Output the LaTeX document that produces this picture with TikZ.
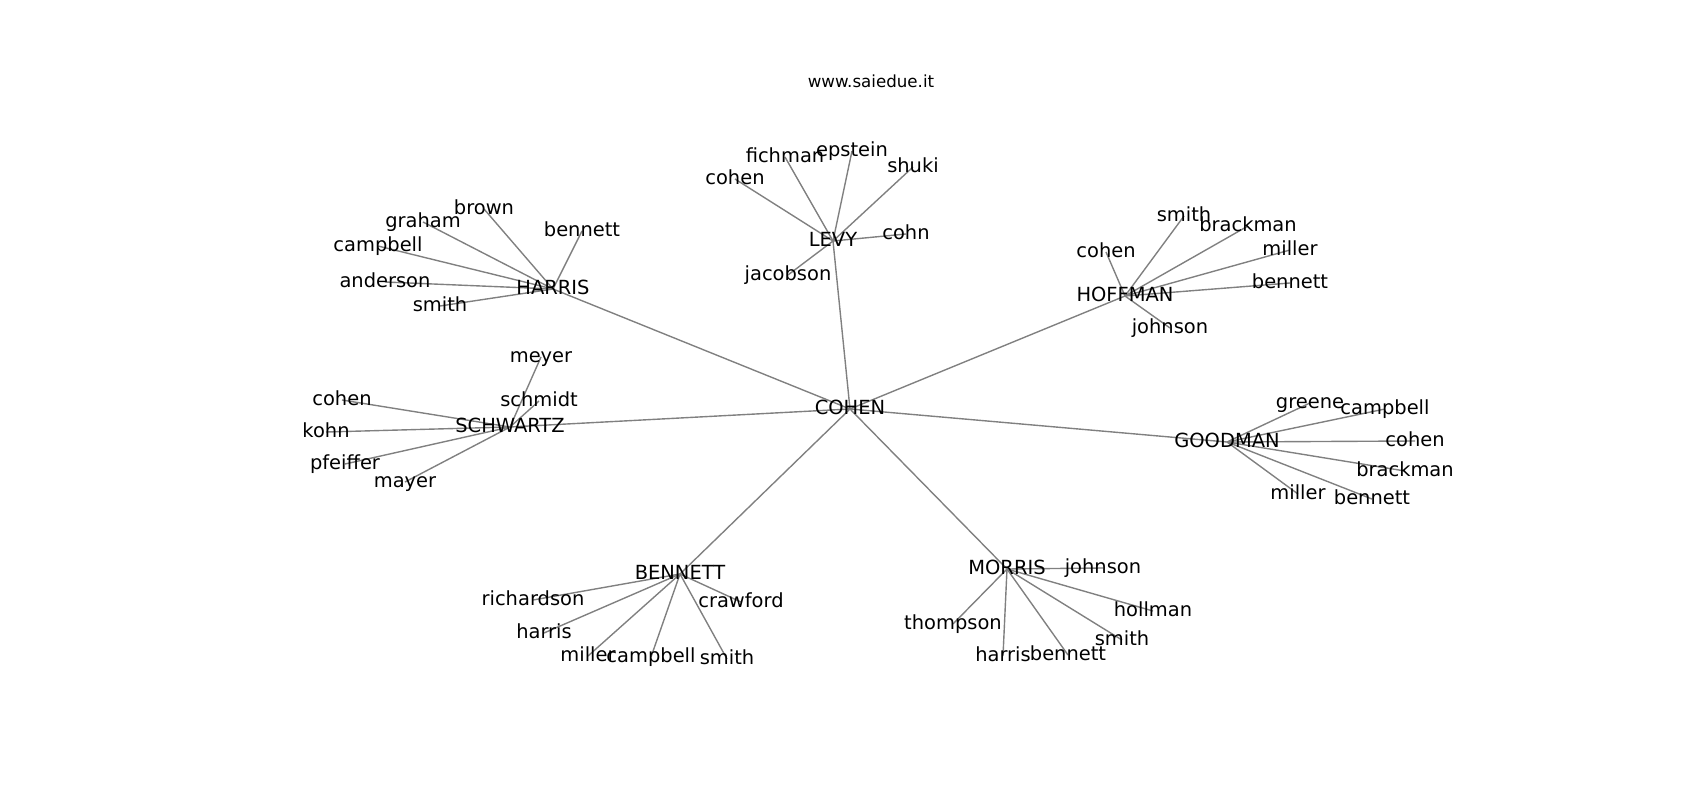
\documentclass[tikz,border=0pt]{standalone}
\usepackage{fontspec}
\setmainfont{DejaVu Sans}
\usetikzlibrary{backgrounds}

\begin{document}
\begin{tikzpicture}[
    x=0.01in, y=-0.01in,
    person/.style={inner sep=0pt, font=\fontsize{14bp}{16bp}\selectfont, text height=10.6bp, text depth=3.3bp},
    link/.style={draw=gray, line width=1bp}
]
    \useasboundingbox (0,0) rectangle (1700,800);
    \node[font=\fontsize{12bp}{14bp}\selectfont] (title) at (871,81) {www.saiedue.it};

    % centre and families
    \node[person] (cohen) at (850,409) {COHEN};
    \node[person] (levy) at (833,241) {LEVY};
    \node[person] (harris) at (553,289) {HARRIS};
    \node[person] (hoffman) at (1125,296) {HOFFMAN};
    \node[person] (schwartz) at (510,427) {SCHWARTZ};
    \node[person] (goodman) at (1227,442) {GOODMAN};
    \node[person] (bennett) at (680,574) {BENNETT};
    \node[person] (morris) at (1007,569) {MORRIS};

    % levy
    \node[person] (levy-fichman) at (785,157) {fichman};
    \node[person] (levy-epstein) at (852,151) {epstein};
    \node[person] (levy-shuki) at (913,167) {shuki};
    \node[person] (levy-cohen) at (735,179) {cohen};
    \node[person] (levy-cohn) at (906,234) {cohn};
    \node[person] (levy-jacobson) at (788,275) {jacobson};

    % harris
    \node[person] (harris-brown) at (484,209) {brown};
    \node[person] (harris-graham) at (423,222) {graham};
    \node[person] (harris-campbell) at (378,246) {campbell};
    \node[person] (harris-bennett) at (582,231) {bennett};
    \node[person] (harris-anderson) at (385,282) {anderson};
    \node[person] (harris-smith) at (440,306) {smith};

    % hoffman
    \node[person] (hoffman-smith) at (1184,216) {smith};
    \node[person] (hoffman-brackman) at (1248,226) {brackman};
    \node[person] (hoffman-cohen) at (1106,252) {cohen};
    \node[person] (hoffman-miller) at (1290,250) {miller};
    \node[person] (hoffman-bennett) at (1290,283) {bennett};
    \node[person] (hoffman-johnson) at (1170,328) {johnson};

    % schwartz
    \node[person] (schwartz-meyer) at (541,357) {meyer};
    \node[person] (schwartz-schmidt) at (539,401) {schmidt};
    \node[person] (schwartz-cohen) at (342,400) {cohen};
    \node[person] (schwartz-kohn) at (326,432) {kohn};
    \node[person] (schwartz-pfeiffer) at (345,464) {pfeiffer};
    \node[person] (schwartz-mayer) at (405,482) {mayer};

    % goodman
    \node[person] (goodman-greene) at (1310,403) {greene};
    \node[person] (goodman-campbell) at (1385,409) {campbell};
    \node[person] (goodman-cohen) at (1415,441) {cohen};
    \node[person] (goodman-brackman) at (1405,471) {brackman};
    \node[person] (goodman-miller) at (1298,494) {miller};
    \node[person] (goodman-bennett) at (1372,499) {bennett};

    % bennett
    \node[person] (bennett-richardson) at (533,600) {richardson};
    \node[person] (bennett-crawford) at (741,602) {crawford};
    \node[person] (bennett-harris) at (544,633) {harris};
    \node[person] (bennett-miller) at (588,656) {miller};
    \node[person] (bennett-campbell) at (651,657) {campbell};
    \node[person] (bennett-smith) at (727,659) {smith};

    % morris
    \node[person] (morris-johnson) at (1103,568) {johnson};
    \node[person] (morris-thompson) at (953,624) {thompson};
    \node[person] (morris-hollman) at (1153,611) {hollman};
    \node[person] (morris-smith) at (1122,640) {smith};
    \node[person] (morris-harris) at (1003,656) {harris};
    \node[person] (morris-bennett) at (1068,655) {bennett};

    \begin{pgfonlayer}{background}
        \foreach \f in {levy,harris,hoffman,schwartz,goodman,bennett,morris}
            \draw[link] (cohen.center) -- (\f.center);
        \foreach \m in {fichman,epstein,shuki,cohen,cohn,jacobson}
            \draw[link] (levy.center) -- (levy-\m.center);
        \foreach \m in {brown,graham,campbell,bennett,anderson,smith}
            \draw[link] (harris.center) -- (harris-\m.center);
        \foreach \m in {smith,brackman,cohen,miller,bennett,johnson}
            \draw[link] (hoffman.center) -- (hoffman-\m.center);
        \foreach \m in {meyer,schmidt,cohen,kohn,pfeiffer,mayer}
            \draw[link] (schwartz.center) -- (schwartz-\m.center);
        \foreach \m in {greene,campbell,cohen,brackman,miller,bennett}
            \draw[link] (goodman.center) -- (goodman-\m.center);
        \foreach \m in {richardson,crawford,harris,miller,campbell,smith}
            \draw[link] (bennett.center) -- (bennett-\m.center);
        \foreach \m in {johnson,thompson,hollman,smith,harris,bennett}
            \draw[link] (morris.center) -- (morris-\m.center);
    \end{pgfonlayer}
\end{tikzpicture}
\end{document}
